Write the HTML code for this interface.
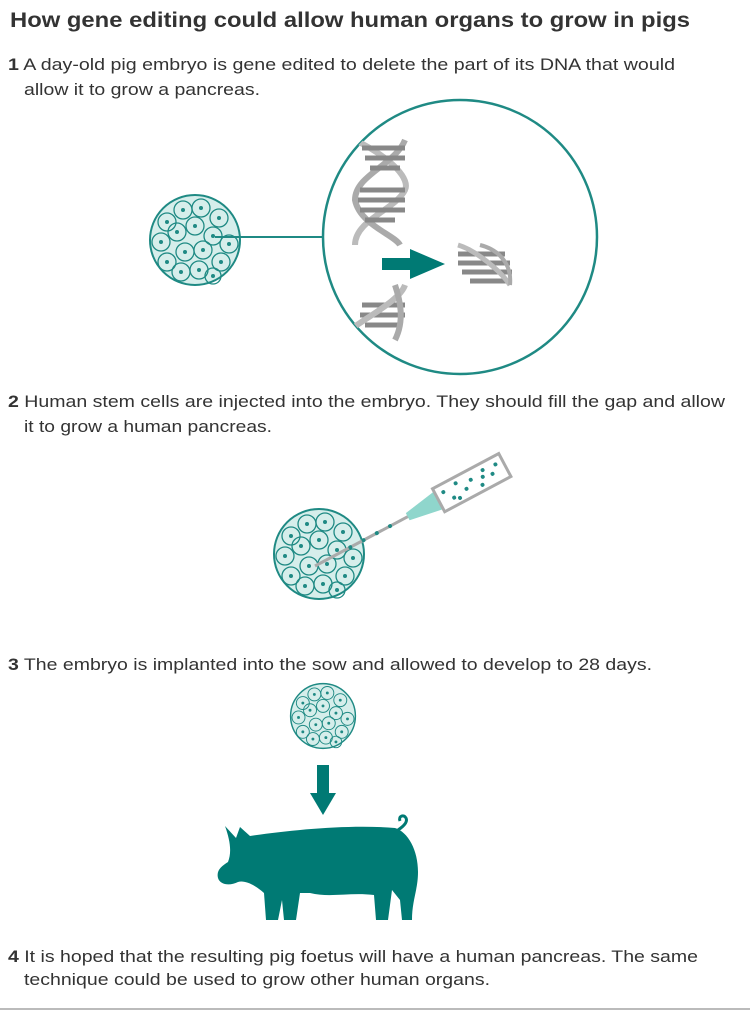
<!DOCTYPE html>
<html><head><meta charset="utf-8"><style>
html,body{margin:0;padding:0;background:#fff;}
svg{display:block;}
text{font-family:"Liberation Sans",Arial,sans-serif;fill:#333;}
</style></head><body>
<svg width="750" height="1011" viewBox="0 0 750 1011" xmlns="http://www.w3.org/2000/svg">
<defs>
<g id="emb">
  <circle r="45" fill="#d6eeeb" stroke="#1f8a84" stroke-width="2"/>
  <g fill="none" stroke="#1f8a84" stroke-width="1.3">
    <circle cx="-28" cy="-18" r="9"/><circle cx="-12" cy="-30" r="9"/><circle cx="6" cy="-32" r="9"/><circle cx="24" cy="-22" r="9"/>
    <circle cx="-34" cy="2" r="9"/><circle cx="-18" cy="-8" r="9"/><circle cx="0" cy="-14" r="9"/><circle cx="18" cy="-4" r="9"/><circle cx="34" cy="4" r="9"/>
    <circle cx="-28" cy="22" r="9"/><circle cx="-10" cy="12" r="9"/><circle cx="8" cy="10" r="9"/><circle cx="26" cy="22" r="9"/>
    <circle cx="-14" cy="32" r="9"/><circle cx="4" cy="30" r="9"/><circle cx="18" cy="36" r="8"/>
  </g>
  <g fill="#1f8a84">
    <circle cx="-28" cy="-18" r="2"/><circle cx="-12" cy="-30" r="2"/><circle cx="6" cy="-32" r="2"/><circle cx="24" cy="-22" r="2"/>
    <circle cx="-34" cy="2" r="2"/><circle cx="-18" cy="-8" r="2"/><circle cx="0" cy="-14" r="2"/><circle cx="18" cy="-4" r="2"/><circle cx="34" cy="4" r="2"/>
    <circle cx="-28" cy="22" r="2"/><circle cx="-10" cy="12" r="2"/><circle cx="8" cy="10" r="2"/><circle cx="26" cy="22" r="2"/>
    <circle cx="-14" cy="32" r="2"/><circle cx="4" cy="30" r="2"/><circle cx="18" cy="36" r="2"/>
  </g>
</g>
<clipPath id="cc"><circle cx="460" cy="237" r="137"/></clipPath>
</defs>

<text x="10" y="27" font-size="21" font-weight="bold" textLength="680" lengthAdjust="spacingAndGlyphs">How gene editing could allow human organs to grow in pigs</text>

<text x="8" y="70" font-size="17" textLength="667" lengthAdjust="spacingAndGlyphs"><tspan font-weight="bold">1</tspan> A day-old pig embryo is gene edited to delete the part of its DNA that would</text>
<text x="24" y="95" font-size="17" textLength="236" lengthAdjust="spacingAndGlyphs">allow it to grow a pancreas.</text>

<!-- step1 -->
<use href="#emb" x="195" y="240"/>
<line x1="215" y1="237" x2="322" y2="237" stroke="#1f8a84" stroke-width="2"/>
<circle cx="460" cy="237" r="137" fill="#fff" stroke="#1f8a84" stroke-width="2.5"/>
<g clip-path="url(#cc)">
  <path d="M355,140 C395,160 410,180 405,190 C395,210 355,220 355,245" fill="none" stroke="#bbb" stroke-width="6"/>
  <path d="M405,140 C395,165 355,175 355,200 C360,225 395,235 400,245" fill="none" stroke="#aaa" stroke-width="6"/>
  <g stroke="#888" stroke-width="5">
    <line x1="362" y1="148" x2="405" y2="148"/><line x1="365" y1="158" x2="405" y2="158"/><line x1="370" y1="168" x2="400" y2="168"/>
    <line x1="360" y1="190" x2="405" y2="190"/><line x1="358" y1="200" x2="405" y2="200"/><line x1="360" y1="210" x2="405" y2="210"/><line x1="365" y1="220" x2="395" y2="220"/>
    <line x1="362" y1="305" x2="405" y2="305"/><line x1="360" y1="315" x2="405" y2="315"/><line x1="365" y1="325" x2="400" y2="325"/>
  </g>
  <path d="M350,330 C370,315 400,300 405,285" fill="none" stroke="#bbb" stroke-width="6"/>
  <path d="M395,285 C400,300 405,320 395,340" fill="none" stroke="#aaa" stroke-width="6"/>
</g>
<g stroke="#888" stroke-width="5">
  <line x1="458" y1="254" x2="505" y2="254"/><line x1="458" y1="263" x2="510" y2="263"/><line x1="462" y1="272" x2="512" y2="272"/><line x1="470" y1="281" x2="512" y2="281"/>
</g>
<path d="M458,245 C475,250 500,270 510,285" fill="none" stroke="#bbb" stroke-width="5"/>
<path d="M480,245 C500,250 512,265 510,285" fill="none" stroke="#aaa" stroke-width="4"/>
<rect x="382" y="258" width="30" height="12" fill="#007a74"/>
<polygon points="410,249 445,264 410,279" fill="#007a74"/>

<text x="8" y="407" font-size="17" textLength="717" lengthAdjust="spacingAndGlyphs"><tspan font-weight="bold">2</tspan> Human stem cells are injected into the embryo. They should fill the gap and allow</text>
<text x="24" y="432" font-size="17" textLength="248" lengthAdjust="spacingAndGlyphs">it to grow a human pancreas.</text>

<!-- step2 -->
<use href="#emb" x="319" y="554"/>
<g transform="translate(315,566) rotate(-28)">
  <rect x="0" y="-1.5" width="110" height="3" fill="#aaa"/>
  <circle cx="40" cy="0" r="2" fill="#1f8a84"/><circle cx="55" cy="0" r="2" fill="#1f8a84"/><circle cx="70" cy="0" r="2" fill="#1f8a84"/><circle cx="85" cy="0" r="2" fill="#1f8a84"/>
  <polygon points="105,-4 140,-10 140,10 105,4" fill="#8fd6cc"/>
  <rect x="140" y="-13" width="75" height="26" fill="#fff" stroke="#aaa" stroke-width="3"/>
  <g fill="#1f8a84">
    <circle cx="148" cy="-5" r="2"/><circle cx="155" cy="5" r="2"/><circle cx="163" cy="-7" r="2"/><circle cx="170" cy="3" r="2"/><circle cx="178" cy="-3" r="2"/><circle cx="186" cy="7" r="2"/><circle cx="193" cy="-6" r="2"/><circle cx="200" cy="2" r="2"/><circle cx="207" cy="-5" r="2"/><circle cx="160" cy="8" r="2"/><circle cx="190" cy="0" r="2"/>
  </g>
</g>

<text x="8" y="670" font-size="17" textLength="644" lengthAdjust="spacingAndGlyphs"><tspan font-weight="bold">3</tspan> The embryo is implanted into the sow and allowed to develop to 28 days.</text>

<!-- step3 -->
<g transform="translate(323,716) scale(0.72)"><use href="#emb"/></g>
<rect x="317" y="765" width="12" height="28" fill="#007a74"/>
<polygon points="310,793 336,793 323,815" fill="#007a74"/>
<path fill="#007a74" d="M225,826 L236,838 L240,827 L250,836 C290,830 350,824 395,828 C408,832 418,850 418,872 C418,890 412,900 412,920 L402,920 L400,900 L392,890 L388,920 L376,920 L374,895 C350,892 330,898 310,893 L300,893 L296,920 L284,920 L282,900 L278,920 L266,920 L264,893 C255,885 245,880 238,882 C230,886 220,885 218,878 C216,870 222,866 228,862 C232,852 230,840 225,826 Z"/>
<path d="M398,830 C404,826 408,822 406,818 C404,814 398,816 400,821" fill="none" stroke="#007a74" stroke-width="3"/>

<text x="8" y="962" font-size="17" textLength="690" lengthAdjust="spacingAndGlyphs"><tspan font-weight="bold">4</tspan> It is hoped that the resulting pig foetus will have a human pancreas. The same</text>
<text x="24" y="985" font-size="17" textLength="466" lengthAdjust="spacingAndGlyphs">technique could be used to grow other human organs.</text>

<line x1="0" y1="1009" x2="750" y2="1009" stroke="#bbb" stroke-width="2"/>
</svg>
</body></html>
